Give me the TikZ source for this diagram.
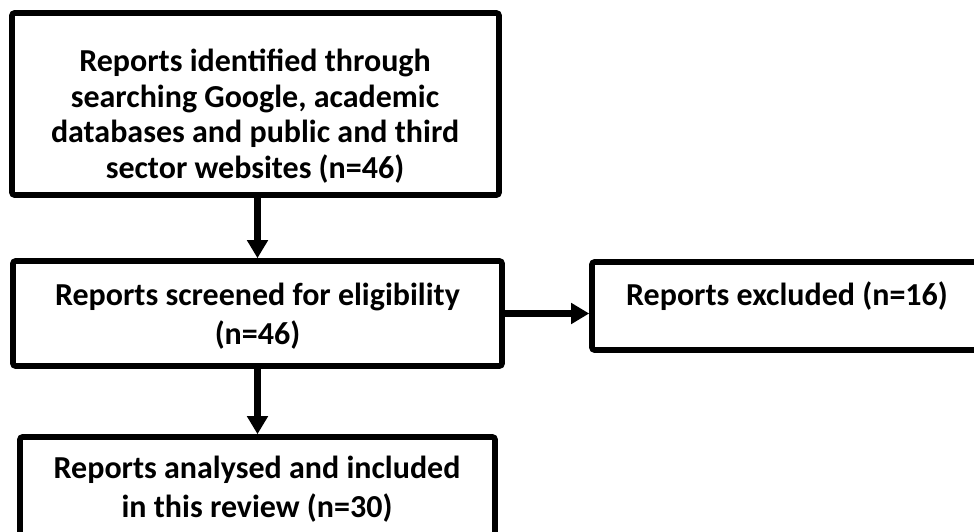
\documentclass[tikz,border=0pt]{standalone}
\usepackage{fontspec}
\setmainfont{Carlito}
\usetikzlibrary{arrows.meta}
\tikzset{
  flowbox/.style={draw=black, line width=5.6pt, rounded corners=2.5pt, inner sep=0pt, fill=white},
  flowtext/.style={font=\bfseries\fontsize{32}{#1}\selectfont, align=center, inner sep=0pt, text=black},
  flowarrow/.style={line width=6.4pt, -{Triangle[length=18pt,width=20pt]}}
}
\begin{document}
\begin{tikzpicture}[x=1pt,y=-1pt]
\useasboundingbox (0,0) rectangle (974,532);
\clip (0,0) rectangle (974,532);
\fill[white] (0,0) rectangle (974,532);
% boxes
\node[flowbox, minimum width=487pt, minimum height=182pt] (b1) at (255.5,104) {};
\node[flowbox, minimum width=489pt, minimum height=105pt] (b2) at (257.5,313.5) {};
\node[flowbox, minimum width=390pt, minimum height=88pt] (b3) at (787,306) {};
\node[flowbox, minimum width=475pt, minimum height=123pt] (b4) at (257.5,498.5) {};
% texts
\node[flowtext=35.5] (t1) at (255,117.7) {\strut Reports identified through\\ searching Google, academic\\ databases and public and third\\ sector websites (n=46)\strut};
\node[flowtext=39.5] (t2) at (257.5,316.9) {\strut Reports screened for eligibility\\ (n=46)\strut};
\node[flowtext=35.5] (t3) at (787,297.9) {\strut Reports excluded (n=16)\strut};
\node[flowtext=39] (t4) at (257,489.7) {\strut Reports analysed and included\\ in this review (n=30)\strut};
% connectors
\draw[flowarrow] (b1.south -| b2.north) -- (b2.north);
\draw[flowarrow] (b2.east) -- (b2.east -| b3.west);
\draw[flowarrow] (b2.south) -- (b4.north -| b2.south);
\end{tikzpicture}
\end{document}
